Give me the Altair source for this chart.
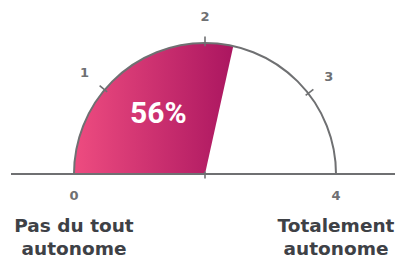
import numpy as np
import pandas as pd
import altair as alt

# ---- data ----
tick_values = [0, 1, 2, 3, 4]
tick_labels = ["0", "1", "2", "3", "4"]
tick_angles_deg = [0, 40, 90, 142, 180]   # angle measured from the left end of the gauge
score = 2.24
score_label = "56%"
end_texts = ["Pas du tout\nautonome", "Totalement\nautonome"]
end_values = [0, 4]

# ---- layout ----
R_PX = 131
W, H = 387, 249
CX, CY = 197, 166  # centre of the gauge inside the plot area (px)
xs = alt.Scale(domain=[-CX / R_PX, (W - CX) / R_PX], nice=False, zero=False)
ys = alt.Scale(domain=[-(H - CY) / R_PX, CY / R_PX], nice=False, zero=False)
GREY = "#6f7072"
DARK = "#3e4146"
FONT = "DejaVu Sans"


def ang(v):
    return np.radians(np.interp(v, tick_values, tick_angles_deg))


fill_ang = ang(score)

arcs = pd.DataFrame({
    "cx": [0.0], "cy": [0.0],
    "t1": [-np.pi / 2], "t2": [-np.pi / 2 + fill_ang], "tend": [np.pi / 2],
})

gradient = alt.Gradient(
    gradient="linear",
    stops=[alt.GradientStop(color="#ee4c80", offset=0),
           alt.GradientStop(color="#ab1660", offset=1)],
    x1=0, x2=1, y1=0, y2=0,
)

base_x = alt.X("cx:Q", scale=xs, axis=None)
base_y = alt.Y("cy:Q", scale=ys, axis=None)

fill = alt.Chart(arcs).mark_arc(radius=R_PX, fill=gradient, stroke=None).encode(
    x=base_x, y=base_y,
    theta=alt.Theta("t1:Q", scale=None), theta2="t2:Q",
)

outline = alt.Chart(arcs).mark_arc(radius=R_PX, filled=False, stroke=GREY, strokeWidth=2).encode(
    x=base_x, y=base_y,
    theta=alt.Theta("t1:Q", scale=None), theta2="tend:Q",
)

baseline_df = pd.DataFrame({"x": [-(CX - 3) / R_PX], "x2": [(W - CX) / R_PX], "y": [0.0]})
baseline = alt.Chart(baseline_df).mark_rule(color=GREY, strokeWidth=2).encode(
    x=alt.X("x:Q", scale=xs, axis=None), x2="x2:Q",
    y=alt.Y("y:Q", scale=ys, axis=None),
)

# tick marks across the arc (values 1..3) and the centre mark
inner, outer = 0.975, 1.05
tv = tick_values[1:-1]
a = ang(tv)
ticks_df = pd.DataFrame({
    "x": list(-np.cos(a) * inner) + [0.0],
    "y": list(np.sin(a) * inner) + [0.02],
    "x2": list(-np.cos(a) * outer) + [0.0],
    "y2": list(np.sin(a) * outer) + [-0.035],
})
ticks = alt.Chart(ticks_df).mark_rule(color=GREY, strokeWidth=1.6).encode(
    x=alt.X("x:Q", scale=xs, axis=None), y=alt.Y("y:Q", scale=ys, axis=None),
    x2="x2:Q", y2="y2:Q",
)

# number labels
la = ang(tick_values)
lx, ly = [], []
for v, aa in zip(tick_values, la):
    if v in end_values:
        lx.append(-np.cos(aa))
        ly.append(-0.165)
    else:
        lx.append(-np.cos(aa) * 1.2)
        ly.append(np.sin(aa) * 1.2)
labels_df = pd.DataFrame({"x": lx, "y": ly, "t": tick_labels})
labels = alt.Chart(labels_df).mark_text(
    font=FONT, fontWeight="bold", fontSize=13, color=GREY, baseline="middle", align="center"
).encode(x=alt.X("x:Q", scale=xs, axis=None), y=alt.Y("y:Q", scale=ys, axis=None), text="t:N")

# score label near the centroid of the filled sector
mid = fill_ang / 2
score_df = pd.DataFrame({"x": [-np.cos(mid) * 0.57], "y": [np.sin(mid) * 0.59], "t": [score_label]})
score_txt = alt.Chart(score_df).mark_text(
    font="Roboto", fontWeight="bold", fontSize=30, color="white", baseline="middle", align="center"
).encode(x=alt.X("x:Q", scale=xs, axis=None), y=alt.Y("y:Q", scale=ys, axis=None), text="t:N")

# end descriptions
ends_df = pd.DataFrame({
    "x": [-np.cos(ang(v)) for v in end_values],
    "y": [-0.395, -0.395],
    "t": end_texts,
})
ends = alt.Chart(ends_df).mark_text(
    font=FONT, fontWeight="bold", fontSize=18.5, color=DARK, baseline="middle",
    align="center", lineBreak="\n", lineHeight=23,
).encode(x=alt.X("x:Q", scale=xs, axis=None), y=alt.Y("y:Q", scale=ys, axis=None), text="t:N")

chart = alt.layer(fill, outline, baseline, ticks, labels, score_txt, ends).properties(
    width=W, height=H, padding=0, autosize=alt.AutoSizeParams(type="none"),
).configure_view(stroke=None)

chart.save("out.html", embed_options={"renderer": "svg", "actions": False})
